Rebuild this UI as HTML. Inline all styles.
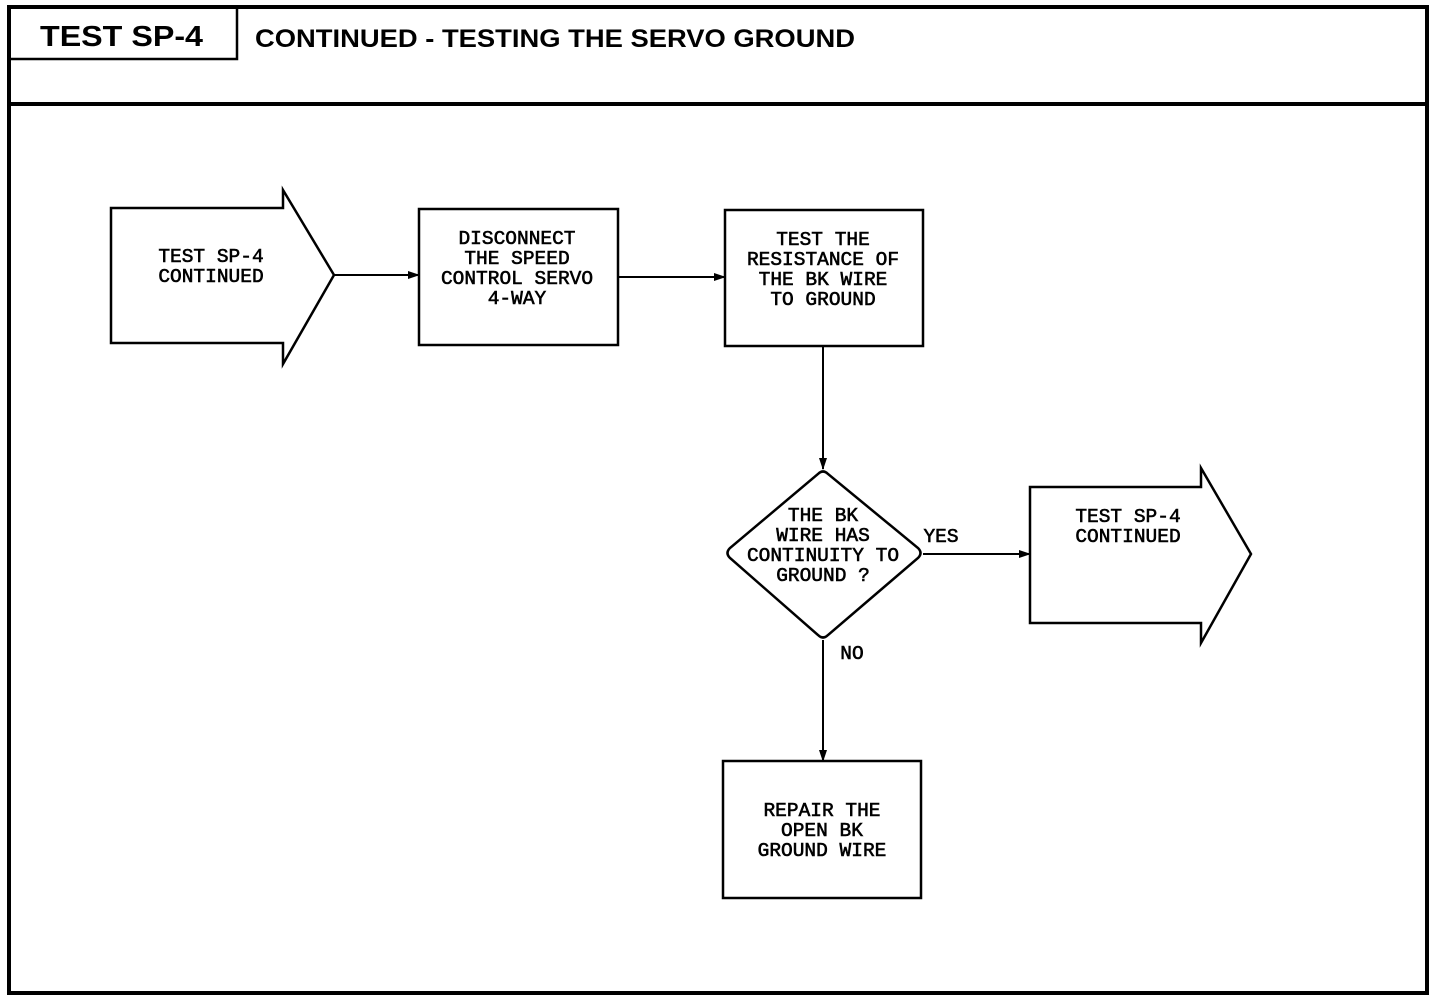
<!DOCTYPE html>
<html><head><meta charset="utf-8"><style>
html,body{margin:0;padding:0;background:#fff;}
svg{display:block;}
.t{font-family:"Liberation Mono",monospace;font-size:19.5px;fill:#000;text-anchor:middle;stroke:#000;stroke-width:0.6;}
.h{font-family:"Liberation Sans",sans-serif;font-weight:bold;fill:#000;}
</style></head><body>
<svg width="1456" height="996" viewBox="0 0 1456 996" xmlns="http://www.w3.org/2000/svg">
<defs><marker id="a" markerWidth="12" markerHeight="10" refX="11" refY="5" orient="auto" markerUnits="userSpaceOnUse"><path d="M0,1 L12,5 L0,9 Z" fill="#000"/></marker></defs>
<g fill="none" stroke="#000">
<rect x="9" y="7" width="1418" height="986" stroke-width="4"/>
<line x1="9" y1="104" x2="1427" y2="104" stroke-width="4"/>
<polyline points="9,59 237,59 237,7" stroke-width="2.5"/>
<g stroke-width="2.5">
<polygon points="111,208 283,208 283,190 334,275 283,364 283,343 111,343"/>
<rect x="419" y="209" width="199" height="136"/>
<rect x="725" y="210" width="198" height="136"/>
<path d="M818,474 Q823,469 828,474 L918,548 Q923,553 918,558 L828,635 Q823,640 818,635 L730,558 Q725,553 730,548 Z"/>
<polygon points="1030,487 1201,487 1201,468 1251,554 1201,643 1201,623 1030,623"/>
<rect x="723" y="761" width="198" height="137"/>
</g>
<g stroke-width="2">
<line x1="334" y1="275" x2="419" y2="275" marker-end="url(#a)"/>
<line x1="618" y1="277" x2="725" y2="277" marker-end="url(#a)"/>
<line x1="823" y1="346" x2="823" y2="469" marker-end="url(#a)"/>
<line x1="923" y1="554" x2="1030" y2="554" marker-end="url(#a)"/>
<line x1="823" y1="640" x2="823" y2="761" marker-end="url(#a)"/>
</g>
</g>
<text class="h" x="40" y="46" font-size="29" textLength="163" lengthAdjust="spacingAndGlyphs">TEST SP-4</text>
<text class="h" x="255" y="47" font-size="25" textLength="600" lengthAdjust="spacingAndGlyphs">CONTINUED - TESTING THE SERVO GROUND</text>
<g class="t">
<text x="211" y="262">TEST SP-4</text><text x="211" y="282">CONTINUED</text>
<text x="517" y="244">DISCONNECT</text><text x="517" y="264">THE SPEED</text><text x="517" y="284">CONTROL SERVO</text><text x="517" y="304">4-WAY</text>
<text x="823" y="245">TEST THE</text><text x="823" y="265">RESISTANCE OF</text><text x="823" y="285">THE BK WIRE</text><text x="823" y="305">TO GROUND</text>
<text x="823" y="521">THE BK</text><text x="823" y="541">WIRE HAS</text><text x="823" y="561">CONTINUITY TO</text><text x="823" y="581">GROUND ?</text>
<text x="1128" y="522">TEST SP-4</text><text x="1128" y="542">CONTINUED</text>
<text x="822" y="816">REPAIR THE</text><text x="822" y="836">OPEN BK</text><text x="822" y="856">GROUND WIRE</text>
<text x="941" y="542">YES</text><text x="852" y="659">NO</text>
</g>
</svg>
</body></html>
